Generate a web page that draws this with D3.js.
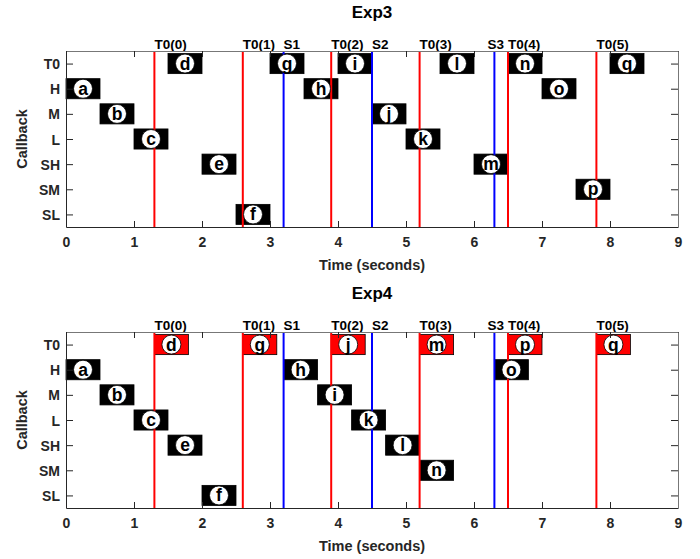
<!DOCTYPE html>
<html lang="en">
<head>
    <meta charset="UTF-8">
    <title>Exp3 / Exp4 callbacks</title>
    <script src="https://cdn.jsdelivr.net/npm/d3@7"></script>
    <style>
        body { margin: 0; background: #fff; }
        svg { width: 700px; height: 559px; font-family: "Liberation Sans", Arial, sans-serif; }
    </style>
</head>
<body>
    <svg></svg>

    <script>
        const rows = ['T0', 'H', 'M', 'L', 'SH', 'SM', 'SL'];
        const xTicks = [0, 1, 2, 3, 4, 5, 6, 7, 8, 9];
        const duration = 0.5;

        const t0Times = [1.3, 2.6, 3.9, 5.2, 6.5, 7.8];
        const t0Names = ['T0(0)', 'T0(1)', 'T0(2)', 'T0(3)', 'T0(4)', 'T0(5)'];
        const sTimes = [3.2, 4.5, 6.3];
        const sNames = ['S1', 'S2', 'S3'];
        const sLabelAt = [3.2, 4.5, 6.2];

        const letters = 'abcdefghijklmnopq'.split('');

        const exp3Rows = ['H', 'M', 'L', 'T0', 'SH', 'SL', 'T0', 'H', 'T0', 'M', 'L', 'T0', 'SH', 'T0', 'H', 'SM', 'T0'];
        const exp3Start = [0, 0.5, 1.0, 1.5, 2.0, 2.5, 3.0, 3.5, 4.0, 4.5, 5.0, 5.5, 6.0, 6.5, 7.0, 7.5, 8.0];
        const exp3Red = [];

        const exp4Rows = ['H', 'M', 'L', 'T0', 'SH', 'SL', 'T0', 'H', 'M', 'T0', 'L', 'SH', 'T0', 'SM', 'H', 'T0', 'T0'];
        const exp4Start = [0, 0.5, 1.0, 1.3, 1.5, 2.0, 2.6, 3.2, 3.7, 3.9, 4.2, 4.7, 5.2, 5.2, 6.3, 6.5, 7.8];
        const exp4Red = ['d', 'g', 'j', 'm', 'p', 'q'];

        const panels = [
            { title: 'Exp3', top: 51, rows: exp3Rows, start: exp3Start, red: exp3Red },
            { title: 'Exp4', top: 332, rows: exp4Rows, start: exp4Start, red: exp4Red }
        ];

        const left = 66, right = 678, plotH = 176;
        const axisColor = '#262626';
        const svg = d3.select('svg');

        const x = d3.scaleLinear().domain([0, 9]).range([left, right]);

        panels.forEach((p) => {
            const y = d3.scalePoint().domain(rows).range([p.top, p.top + plotH]).padding(0.5);
            const step = y.step();
            const g = svg.append('g');

            // title
            g.append('text')
                .attr('x', (left + right) / 2).attr('y', p.top - 33.5)
                .attr('text-anchor', 'middle')
                .style('font-size', '17px').style('font-weight', 'bold')
                .attr('fill', '#000')
                .text(p.title);

            // boxes
            const items = letters.map((l, i) => ({ l: l, row: p.rows[i], t: p.start[i], red: p.red.includes(l) }));
            const box = g.selectAll('g.item').data(items).enter().append('g').classed('item', true);

            box.append('rect')
                .attr('x', (d) => x(d.t))
                .attr('y', (d) => y(d.row) - step * 0.4)
                .attr('width', (d) => x(d.t + duration) - x(d.t))
                .attr('height', step * 0.8)
                .attr('fill', (d) => d.red ? '#ff0000' : '#000')
                .attr('stroke', '#000')
                .attr('stroke-width', 0.8);

            // vertical lines (drawn above boxes)
            g.selectAll('line.t0').data(t0Times).enter().append('line')
                .attr('x1', (d) => x(d)).attr('x2', (d) => x(d))
                .attr('y1', p.top).attr('y2', p.top + plotH)
                .attr('stroke', '#ff0000').attr('stroke-width', 2);
            g.selectAll('line.s').data(sTimes).enter().append('line')
                .attr('x1', (d) => x(d)).attr('x2', (d) => x(d))
                .attr('y1', p.top).attr('y2', p.top + plotH)
                .attr('stroke', '#0000ff').attr('stroke-width', 2);

            // circles + letters
            const mark = g.selectAll('g.mark').data(items).enter().append('g')
                .attr('transform', (d) => `translate(${x(d.t + duration / 2)},${y(d.row)})`);
            mark.append('circle')
                .attr('r', 9.5)
                .attr('fill', '#fff')
                .attr('stroke', '#000').attr('stroke-width', 0.8);
            mark.append('text')
                .attr('text-anchor', 'middle')
                .attr('y', 6)
                .style('font-size', '17.5px').style('font-weight', 'bold')
                .attr('fill', '#000')
                .text((d) => d.l);

            // labels above the lines
            g.selectAll('text.t0').data(t0Times).enter().append('text')
                .attr('x', (d) => x(d)).attr('y', p.top - 2.5)
                .style('font-size', '13.5px').style('font-weight', 'bold')
                .attr('fill', '#000')
                .text((d, i) => t0Names[i]);
            g.selectAll('text.s').data(sLabelAt).enter().append('text')
                .attr('x', (d) => x(d)).attr('y', p.top - 2.5)
                .style('font-size', '13.5px').style('font-weight', 'bold')
                .attr('fill', '#000')
                .text((d, i) => sNames[i]);

            // axes (box with inward ticks)
            const xb = g.append('g').attr('transform', `translate(0,${p.top + plotH})`)
                .call(d3.axisBottom(x).tickValues(xTicks).tickSizeInner(-6).tickSizeOuter(0).tickPadding(10));
            const xt = g.append('g').attr('transform', `translate(0,${p.top})`)
                .call(d3.axisTop(x).tickValues(xTicks).tickSizeInner(-6).tickSizeOuter(0).tickFormat(''));
            const yl = g.append('g').attr('transform', `translate(${left},0)`)
                .call(d3.axisLeft(y).tickSizeInner(-7).tickSizeOuter(0).tickPadding(6));
            const yr = g.append('g').attr('transform', `translate(${right},0)`)
                .call(d3.axisRight(y).tickSizeInner(-7).tickSizeOuter(0).tickFormat(''));

            [xb, xt, yl, yr].forEach((a) => {
                a.select('.domain').attr('stroke', axisColor).attr('stroke-width', 1);
                a.selectAll('.tick line').attr('stroke', axisColor);
                a.selectAll('.tick text')
                    .attr('fill', axisColor)
                    .style('font-size', '14px').style('font-weight', 'bold')
                    .style('font-family', '"Liberation Sans", Arial, sans-serif');
            });
            xt.select('.domain').attr('stroke', '#777');
            yr.select('.domain').attr('stroke', '#777');
            yl.selectAll('.tick text').attr('dy', '0.36em');

            // axis titles
            g.append('text')
                .attr('x', (left + right) / 2).attr('y', p.top + plotH + 43)
                .attr('text-anchor', 'middle')
                .style('font-size', '14.5px').style('font-weight', 'bold')
                .attr('fill', axisColor)
                .text('Time (seconds)');
            g.append('text')
                .attr('transform', `translate(27,${p.top + plotH / 2}) rotate(-90)`)
                .attr('text-anchor', 'middle')
                .style('font-size', '14.5px').style('font-weight', 'bold')
                .attr('fill', axisColor)
                .text('Callback');
        });
    </script>
</body>
</html>
